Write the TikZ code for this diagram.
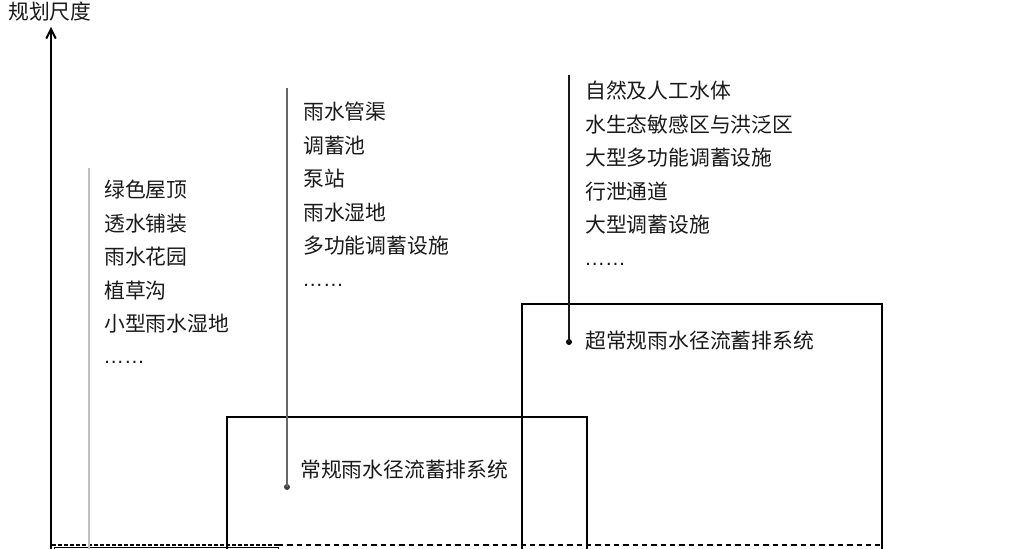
\documentclass[tikz,border=0pt]{standalone}
\usepackage{fontspec}
\newfontfamily\cjk{Noto Sans CJK SC}
\newfontfamily\dotsfont{Liberation Sans}
\usetikzlibrary{arrows.meta}
\definecolor{txt}{HTML}{1a1a1a}
\tikzset{
  lbl/.style={anchor=west, inner sep=0pt, text=txt, font=\cjk\fontsize{15.6}{18}\selectfont},
  dotlbl/.style={anchor=west, inner sep=0pt, text=txt, font=\dotsfont\fontsize{15.6}{18}\selectfont},
  sysbox/.style={draw=black, line width=1.5pt},
  guide/.style={line width=1.1pt},
  enddot/.style={circle, fill=black, inner sep=0pt, minimum size=4.5pt},
}
\begin{document}
\begin{tikzpicture}[x=0.75pt, y=-0.75pt]
\useasboundingbox (0,0) rectangle (1028,549);
\fill[white] (0,0) rectangle (1028,549);
\clip (0,0) rectangle (1028,549);

% axis
\node[lbl] (ylabel) at (8,12) {规划尺度};
\coordinate (axbot) at (51,560);
\coordinate (axtop) at (51,27);
\draw[line width=1.5pt, -{Straight Barb[length=7pt,width=7pt]}] (axbot) -- (axtop);

% boxes
\node[sysbox, minimum width=360*0.75pt, minimum height=160*0.75pt, anchor=north west, inner sep=0pt] (midbox) at (226,416) {};
\node[sysbox, minimum width=360*0.75pt, minimum height=270*0.75pt, anchor=north west, inner sep=0pt] (rightbox) at (521,303) {};
\node[draw=black, line width=0.9pt, minimum width=224*0.75pt, minimum height=20*0.75pt, anchor=north west, inner sep=0pt] (smallbox) at (54,547) {};

% baseline dashed
\coordinate (dashL) at (52,545);
\coordinate (dashM) at (278,545);
\coordinate (dashR) at (880,545);
\draw[line width=1.6pt, dash pattern=on 3pt off 1.5pt] (dashL) -- (dashM);
\draw[line width=0.9pt, dash pattern=on 4pt off 3pt] (dashM) -- (dashR);

% guide lines
\coordinate (g1top) at (89,168);
\coordinate (g1bot) at (89,560);
\draw[guide, draw=black!25] (g1top) -- (g1bot);

\coordinate (g2top) at (287,88);
\node[enddot, fill=black!75] (g2dot) at (287,487) {};
\draw[guide, draw=black!60] (g2top) -- (g2dot.center);

\coordinate (g3top) at (569,75);
\node[enddot] (g3dot) at (569,342) {};
\draw[guide, draw=black!90] (g3top) -- (g3dot.center);

% left list
\node[lbl] (a1) at (104,190) {绿色屋顶};
\node[lbl] (a2) at (104,223.5) {透水铺装};
\node[lbl] (a3) at (104,257) {雨水花园};
\node[lbl] (a4) at (104,290.5) {植草沟};
\node[lbl] (a5) at (104,324) {小型雨水湿地};
\node[dotlbl] (a6) at (103,362) {……};

% middle list
\node[lbl] (b1) at (303,112) {雨水管渠};
\node[lbl] (b2) at (303,145.5) {调蓄池};
\node[lbl] (b3) at (303,179) {泵站};
\node[lbl] (b4) at (303,212.5) {雨水湿地};
\node[lbl] (b5) at (303,246) {多功能调蓄设施};
\node[dotlbl] (b6) at (302,285) {……};

% right list
\node[lbl] (c1) at (585,91) {自然及人工水体};
\node[lbl] (c2) at (585,124.5) {水生态敏感区与洪泛区};
\node[lbl] (c3) at (585,158) {大型多功能调蓄设施};
\node[lbl] (c4) at (585,191.5) {行泄通道};
\node[lbl] (c5) at (585,225) {大型调蓄设施};
\node[dotlbl] (c6) at (584,264) {……};

% system labels
\node[lbl] (sys1) at (300,470) {常规雨水径流蓄排系统};
\node[lbl] (sys2) at (585,341) {超常规雨水径流蓄排系统};
\end{tikzpicture}
\end{document}
